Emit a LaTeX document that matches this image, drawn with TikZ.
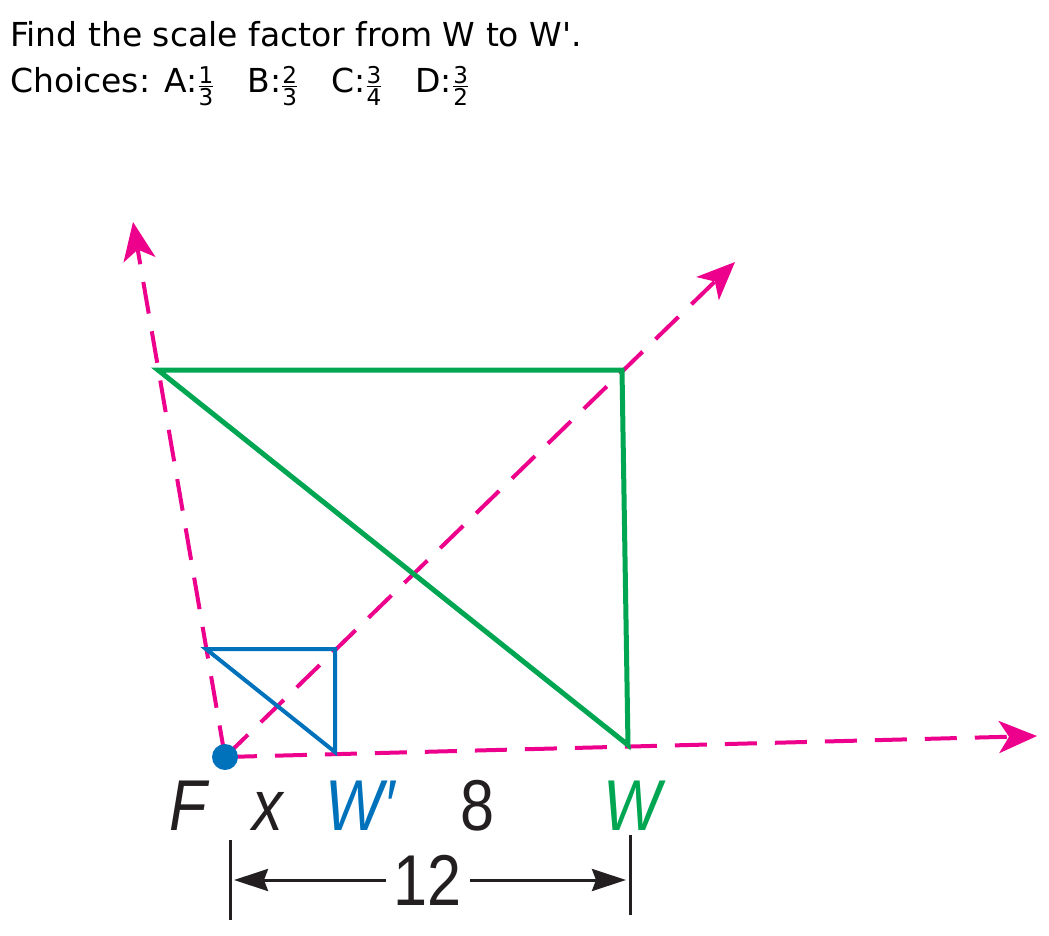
\documentclass[tikz,border=0pt]{standalone}
\usepackage{amsmath}
\usepackage{fontspec}
\setmainfont{DejaVu Sans}
\newfontfamily\figsans[FakeStretch=0.85]{Liberation Sans}
\usetikzlibrary{
  arrows.meta,
  calc,
}
\definecolor{ink}{HTML}{231F20}
\definecolor{ray}{HTML}{EC008C}
\definecolor{bigTri}{HTML}{00A651}
\definecolor{smallTri}{HTML}{0072BC}
\tikzset{
  every node/.style={
    inner sep=0pt,
    text=ink,
  },
  question/.style={
    anchor=base west,
    font=\fontsize{33}{40}\selectfont,
    text=black,
  },
  rayline/.style={
    draw=ray, line width=4pt,
    dash pattern=on 32pt off 18pt,
    -{Stealth[length=38pt,width=32pt,inset=10pt]},
  },
  bigside/.style={
    draw=bigTri, line width=5pt, line join=miter,
  },
  smallside/.style={
    draw=smallTri, line width=4pt, line join=miter,
  },
  ptlabel/.style={
    anchor=base,
    font=\figsans\itshape\fontsize{72}{80}\selectfont,
  },
  numlabel/.style={
    anchor=base,
    font=\figsans\fontsize{72}{80}\selectfont,
  },
  tick/.style={
    draw=ink, line width=3pt,
  },
  dimarrow/.style={
    draw=ink, line width=3pt,
    -{Stealth[length=34pt,width=22pt,inset=4pt]},
  },
}

\begin{document}
\begin{tikzpicture}[x=1pt, y=-1pt]
\useasboundingbox (0,0) rectangle (1049,936);

% ----- question text -----
\node[question] (q1) at (10,47) {Find the scale factor from W to W\textquotesingle.};
\node[question] (q2) at (10,93)
  {Choices: A:$\frac{\text{1}}{\text{3}}$\quad B:$\frac{\text{2}}{\text{3}}$\quad C:$\frac{\text{3}}{\text{4}}$\quad D:$\frac{\text{3}}{\text{2}}$};

% ----- points (pixel grid, y down) -----
\coordinate (F)    at (225,757);
\coordinate (W)    at (628,745);
\coordinate (Wp)   at (335,752);
\coordinate (bigA) at (158,370);
\coordinate (bigB) at (622,370);
\coordinate (smlA) at (206,649);
\coordinate (smlB) at (335,649);
\coordinate (tipL) at (133,222);
\coordinate (tipR) at (735,262);
\coordinate (tipH) at (1037,736);

% ----- rays from the centre F -----
\draw[rayline] (F) -- (tipL);
\draw[rayline] (F) -- (tipR);
\draw[rayline] (F) -- (tipH);

% ----- triangles -----
\draw[bigside] (bigA) -- (bigB) -- (W) -- cycle;
\draw[smallside] (smlA) -- (smlB) -- (Wp) -- cycle;

\fill[smallTri] (F) circle (13pt);

% ----- labels -----
\node[ptlabel] (Flab) at (188,830) {F};
\node[ptlabel] (xlab) at (268,830) {x};
\node[ptlabel, text=smallTri] (Wplab) at (360,830) {W′};
\node[numlabel] (eight) at (478,830) {8};
\node[ptlabel, text=bigTri] (Wlab) at (632,830) {W};

% ----- dimension line -----
\coordinate (tickLt) at (230,840);
\coordinate (tickLb) at (230,920);
\coordinate (tickRt) at (630,835);
\coordinate (tickRb) at (630,915);
\draw[tick] (tickLt) -- (tickLb);
\draw[tick] (tickRt) -- (tickRb);

\node[numlabel, anchor=center] (twelve) at (428,880) {12};
\draw[dimarrow, shorten <=8pt, shorten >=4pt] (twelve.west) -- (twelve.west -| tickLt);
\draw[dimarrow, shorten <=8pt, shorten >=4pt] (twelve.east) -- (twelve.east -| tickRt);

\end{tikzpicture}
\end{document}
